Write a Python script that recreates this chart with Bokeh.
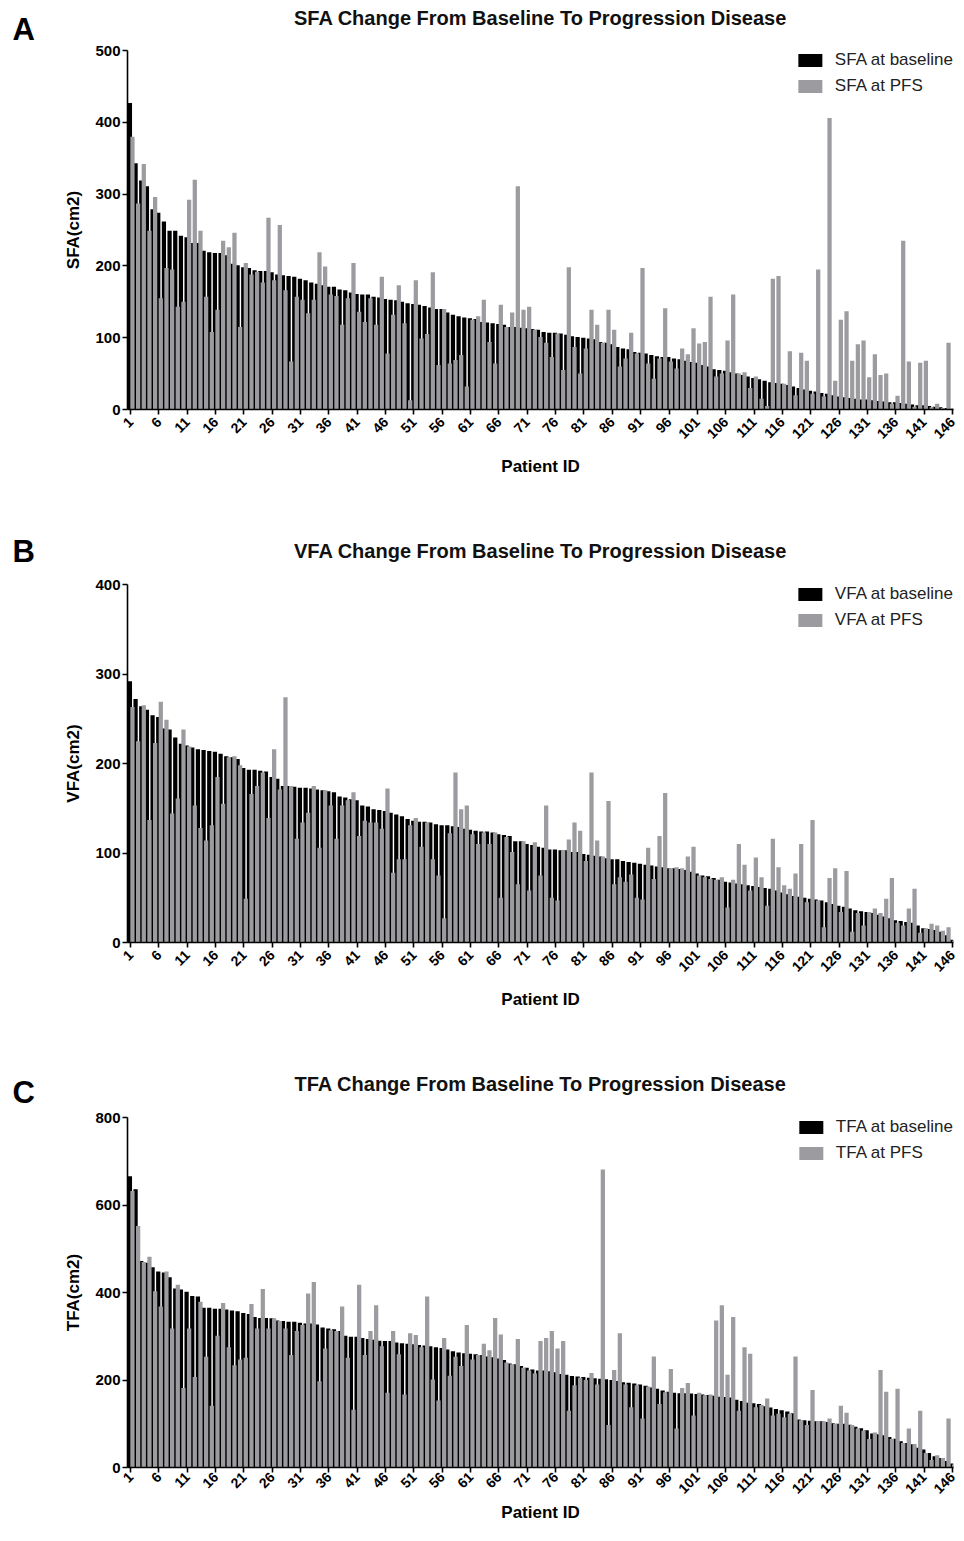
import math
from bokeh.plotting import figure
from bokeh.layouts import column
from bokeh.models import (Range1d, FixedTicker, Legend, LegendItem, Title,
                          ColumnDataSource)
from bokeh.transform import dodge
from bokeh.embed import file_html
from bokeh.resources import INLINE

# ---------------- data ----------------
patients = list(range(1, 147))
x_ticks = [1, 6, 11, 16, 21, 26, 31, 36, 41, 46, 51, 56, 61, 66, 71, 76, 81,
           86, 91, 96, 101, 106, 111, 116, 121, 126, 131, 136, 141, 146]

sfa_baseline = [427, 343, 319, 311, 279, 274, 262, 249, 249, 242,
                240, 232, 232, 221, 219, 218, 218, 215, 203, 201,
                198, 197, 194, 193, 193, 191, 188, 187, 186, 185,
                182, 180, 177, 175, 173, 171, 171, 167, 166, 163,
                161, 160, 160, 157, 156, 154, 153, 152, 150, 148,
                147, 146, 144, 142, 140, 140, 135, 132, 130, 128,
                127, 126, 122, 121, 120, 119, 118, 115, 115, 114,
                113, 112, 111, 108, 107, 107, 106, 104, 102, 101,
                100, 99, 98, 94, 93, 91, 87, 85, 84, 80,
                79, 78, 76, 74, 73, 73, 71, 70, 68, 66,
                65, 62, 60, 56, 55, 54, 52, 50, 48, 46,
                44, 42, 40, 38, 37, 36, 34, 32, 30, 28,
                26, 25, 23, 22, 20, 18, 17, 16, 15, 14,
                14, 13, 12, 11, 10, 10, 9, 8, 7, 6,
                6, 5, 4, 3, 2, 1]
sfa_pfs = [380, 287, 342, 249, 296, 155, 197, 195, 143, 150,
           292, 320, 249, 157, 108, 139, 235, 226, 246, 115,
           204, 188, 192, 177, 267, 180, 257, 166, 67, 157,
           153, 134, 153, 219, 199, 160, 158, 118, 155, 204,
           136, 122, 155, 118, 185, 78, 132, 173, 120, 13,
           180, 99, 105, 191, 62, 140, 64, 69, 76, 32,
           125, 130, 153, 94, 64, 146, 115, 135, 311, 139,
           143, 111, 101, 93, 73, 106, 55, 198, 87, 50,
           85, 139, 118, 93, 139, 111, 60, 71, 107, 78,
           197, 64, 43, 71, 141, 67, 57, 85, 77, 113,
           92, 94, 157, 46, 50, 96, 160, 50, 52, 30,
           46, 15, 5, 182, 186, 36, 81, 20, 79, 68,
           22, 195, 18, 406, 40, 125, 137, 68, 91, 96,
           45, 77, 48, 50, 8, 19, 235, 67, 4, 65,
           68, 3, 8, 2, 93, 1]

vfa_baseline = [292, 272, 264, 260, 254, 252, 239, 238, 229, 222,
                220, 218, 216, 215, 214, 213, 211, 208, 207, 205,
                195, 193, 193, 192, 191, 185, 183, 175, 175, 174,
                173, 173, 172, 171, 170, 169, 168, 163, 162, 160,
                159, 153, 152, 149, 148, 147, 145, 143, 141, 138,
                136, 135, 135, 134, 132, 131, 131, 130, 129, 127,
                126, 125, 124, 124, 123, 121, 120, 119, 113, 113,
                110, 109, 107, 106, 104, 104, 103, 103, 101, 101,
                99, 98, 97, 96, 94, 93, 93, 91, 90, 89,
                88, 87, 86, 85, 84, 83, 83, 82, 81, 79,
                77, 75, 74, 72, 70, 68, 67, 66, 65, 64,
                63, 62, 61, 60, 58, 56, 54, 52, 51, 50,
                49, 48, 47, 45, 43, 41, 40, 38, 36, 35,
                34, 33, 31, 29, 27, 25, 24, 23, 22, 19,
                16, 15, 14, 12, 8, 3]
vfa_pfs = [263, 225, 265, 137, 223, 269, 249, 144, 161, 238,
           219, 153, 128, 114, 131, 185, 155, 207, 208, 198,
           49, 166, 175, 190, 139, 216, 171, 274, 175, 116,
           134, 145, 175, 106, 170, 153, 116, 153, 159, 168,
           119, 136, 134, 134, 127, 172, 78, 93, 93, 131,
           139, 107, 134, 93, 75, 27, 122, 190, 149, 153,
           121, 110, 123, 110, 123, 50, 118, 101, 65, 113,
           58, 112, 75, 153, 50, 47, 103, 115, 134, 125,
           91, 190, 114, 96, 158, 65, 73, 68, 76, 50,
           48, 106, 71, 119, 167, 83, 84, 83, 96, 107,
           75, 73, 71, 70, 73, 39, 70, 110, 87, 58,
           95, 73, 41, 116, 84, 64, 60, 77, 110, 45,
           137, 47, 17, 72, 83, 34, 80, 12, 33, 19,
           34, 38, 33, 49, 72, 22, 19, 38, 60, 11,
           16, 21, 19, 13, 17, 2]

tfa_baseline = [666, 636, 472, 468, 458, 448, 446, 435, 409, 407,
                402, 392, 391, 365, 365, 363, 363, 361, 359, 357,
                353, 351, 344, 342, 342, 341, 336, 335, 333, 333,
                331, 329, 329, 327, 320, 318, 316, 312, 301, 299,
                299, 296, 294, 292, 290, 289, 289, 286, 284, 283,
                282, 280, 279, 277, 275, 273, 270, 266, 263, 261,
                260, 259, 257, 254, 252, 249, 246, 238, 236, 232,
                228, 224, 222, 222, 220, 218, 214, 212, 209, 208,
                207, 205, 204, 203, 202, 200, 198, 195, 194, 192,
                190, 187, 183, 180, 176, 173, 171, 170, 170, 169,
                168, 167, 166, 164, 162, 161, 160, 155, 152, 148,
                147, 145, 140, 137, 134, 131, 128, 124, 110, 108,
                107, 106, 106, 104, 101, 100, 100, 98, 93, 90,
                85, 78, 76, 74, 70, 66, 60, 56, 53, 45,
                41, 33, 26, 22, 15, 9]
tfa_pfs = [632, 552, 470, 482, 403, 368, 448, 318, 418, 182,
           318, 207, 379, 253, 141, 301, 376, 275, 234, 247,
           251, 374, 318, 408, 318, 341, 335, 318, 257, 312,
           326, 398, 424, 197, 272, 314, 312, 368, 251, 132,
           418, 257, 312, 371, 277, 171, 312, 259, 167, 307,
           303, 275, 391, 201, 153, 296, 210, 253, 232, 326,
           247, 257, 283, 268, 342, 304, 240, 236, 294, 228,
           222, 215, 289, 296, 312, 272, 289, 130, 188, 205,
           200, 216, 190, 681, 97, 223, 307, 190, 138, 188,
           112, 185, 254, 145, 172, 225, 89, 182, 193, 119,
           171, 165, 167, 336, 371, 212, 344, 130, 275, 260,
           138, 143, 158, 119, 123, 115, 123, 254, 108, 97,
           177, 106, 106, 112, 100, 141, 125, 97, 89, 84,
           65, 80, 223, 173, 65, 180, 56, 89, 54, 130,
           33, 17, 28, 22, 112, 7]

FONT = "Liberation Sans"
GRAY = "#9c9ca0"
W = 960
LEFT = 127
RIGHT = 7


def make_panel(letter, name, base, pfs, ymax, ystep, height, top, frame_h,
               letter_standoff, title_standoff, tick_standoff, xlabel_standoff):
    p = figure(width=W, height=height, output_backend="svg",
               toolbar_location=None,
               x_range=Range1d(0.45, 146.2), y_range=Range1d(0, ymax),
               min_border_left=LEFT, min_border_right=RIGHT,
               min_border_top=top,
               min_border_bottom=height - top - frame_h)
    p.outline_line_color = None
    p.xgrid.visible = False
    p.ygrid.visible = False
    p.background_fill_color = "white"

    src = ColumnDataSource(dict(patient=patients, base=base, pfs=pfs))
    rb = p.vbar(x=dodge("patient", -0.125, range=p.x_range), top="base",
                width=0.75, bottom=0, source=src,
                fill_color="black", line_color=None)
    rg = p.vbar(x=dodge("patient", 0.325, range=p.x_range), top="pfs",
                width=0.75, bottom=0, source=src,
                fill_color=GRAY, line_color=None)

    for ax in (p.xaxis[0], p.yaxis[0]):
        ax.axis_line_width = 1.6
        ax.axis_line_color = "black"
        ax.major_tick_line_width = 1.6
        ax.major_tick_line_color = "black"
        ax.major_tick_out = 5
        ax.major_tick_in = 0
        ax.minor_tick_line_color = None
        ax.major_label_text_font = FONT
        ax.major_label_text_font_style = "bold"
        ax.major_label_text_color = "black"
        ax.axis_label_text_font = FONT
        ax.axis_label_text_font_style = "bold"
        ax.axis_label_text_font_size = "17px"
        ax.axis_label_text_color = "black"

    p.xaxis.ticker = FixedTicker(ticks=x_ticks)
    p.xaxis.major_label_orientation = math.pi / 4
    p.xaxis.major_label_text_font_size = "14px"
    p.xaxis.major_label_standoff = tick_standoff
    p.xaxis.axis_label = "Patient ID"
    p.xaxis.axis_label_standoff = xlabel_standoff

    p.yaxis.ticker = FixedTicker(ticks=list(range(0, ymax + 1, ystep)))
    p.yaxis.major_label_text_font_size = "15px"
    p.yaxis.major_label_standoff = 2
    p.yaxis.axis_label = f"{name}(cm2)"
    p.yaxis.axis_label_standoff = 9

    legend = Legend(items=[LegendItem(label=f"{name} at baseline", renderers=[rb]),
                           LegendItem(label=f"{name} at PFS", renderers=[rg])],
                    location="top_right", border_line_color=None,
                    background_fill_alpha=0, padding=0, margin=0, spacing=6,
                    glyph_width=30, glyph_height=16, label_height=20,
                    label_standoff=10, label_text_font=FONT,
                    label_text_font_size="17px", label_text_color="#222222")
    p.add_layout(legend)

    # panel letter (nearest to the frame) and main title (outermost)
    p.add_layout(Title(text=letter, align="left", offset=-115,
                       standoff=letter_standoff, text_font=FONT,
                       text_font_style="bold", text_font_size="31px",
                       text_color="black"), "above")
    p.title.text = f"{name} Change From Baseline To Progression Disease"
    p.title.align = "center"
    p.title.offset = 4
    p.title.text_font = FONT
    p.title.text_font_style = "bold"
    p.title.text_font_size = "20px"
    p.title.text_color = "#111111"
    p.title.standoff = title_standoff
    return p


pa = make_panel("A", "SFA", sfa_baseline, sfa_pfs, 500, 100,
                height=512, top=50, frame_h=359,
                letter_standoff=8, title_standoff=-47,
                tick_standoff=5, xlabel_standoff=11)
pb = make_panel("B", "VFA", vfa_baseline, vfa_pfs, 400, 100,
                height=549, top=72, frame_h=358,
                letter_standoff=32, title_standoff=-93,
                tick_standoff=5, xlabel_standoff=11)
pc = make_panel("C", "TFA", tfa_baseline, tfa_pfs, 800, 200,
                height=464, top=56, frame_h=350,
                letter_standoff=16, title_standoff=-61,
                tick_standoff=2, xlabel_standoff=2)

layout = column(pa, pb, pc, spacing=0)
open("out.html", "w").write(file_html(layout, INLINE))
